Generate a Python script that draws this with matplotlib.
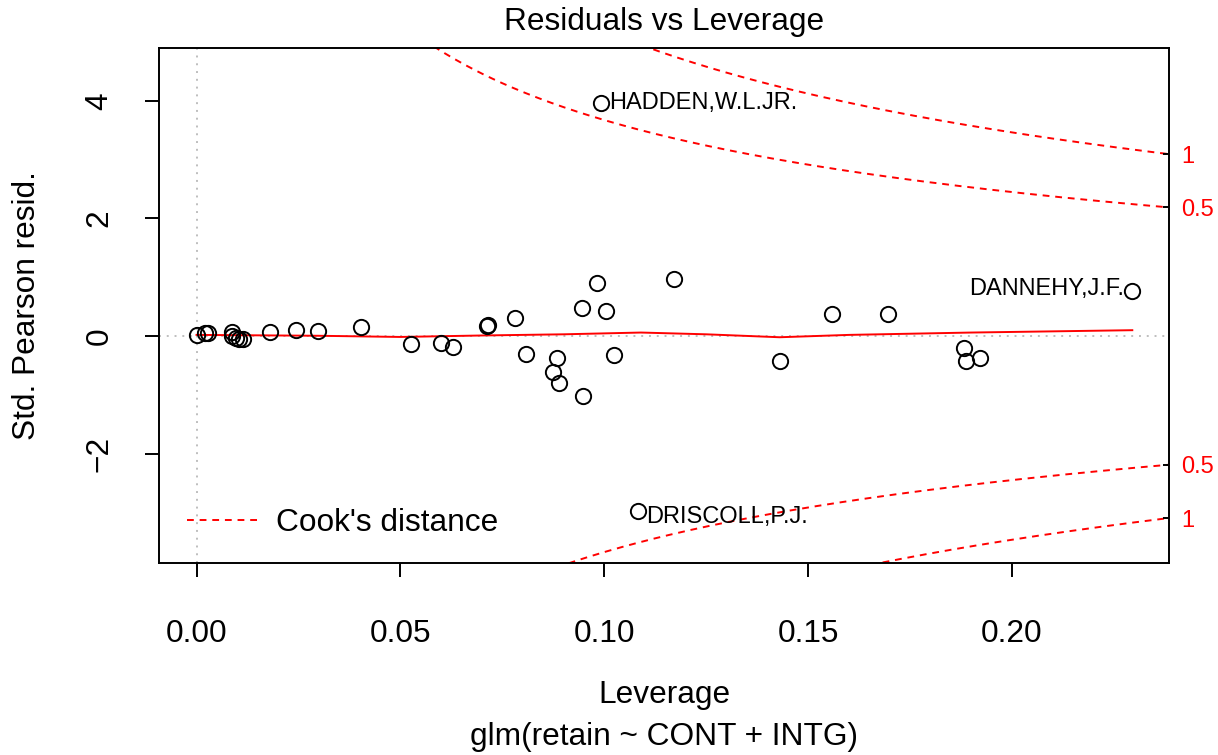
import numpy as np
import matplotlib
matplotlib.use("Agg")
import matplotlib.pyplot as plt

plt.rcParams['font.family'] = ['Liberation Sans', 'DejaVu Sans']

# ---- data ----
leverage = [0.0, 0.0022, 0.0029, 0.0086, 0.0088, 0.0096, 0.0103, 0.0113, 0.0179,
            0.0245, 0.0299, 0.0404, 0.0525, 0.0600, 0.0630, 0.0712, 0.0714, 0.0782,
            0.0808, 0.0884, 0.0874, 0.0890, 0.0948, 0.0946, 0.0982, 0.1005, 0.1025,
            0.1172, 0.1431, 0.1558, 0.1695, 0.1882, 0.1887, 0.1922]
std_resid = [0.017, 0.05, 0.05, 0.068, 0.0, -0.034, -0.05, -0.05, 0.068,
             0.10, 0.085, 0.153, -0.136, -0.12, -0.187, 0.175, 0.18, 0.31,
             -0.31, -0.38, -0.61, -0.79, -1.02, 0.47, 0.90, 0.43, -0.33,
             0.975, -0.426, 0.37, 0.37, -0.20, -0.426, -0.37]

labeled_names = ["HADDEN,W.L.JR.", "DRISCOLL,P.J.", "DANNEHY,J.F."]
labeled_lev = [0.0992, 0.1082, 0.2295]
labeled_res = [3.97, -2.98, 0.77]
label_side = ["right", "right", "left"]
label_dy = [0, -4, 1]

smooth_lev = [0.0, 0.01, 0.03, 0.05, 0.07, 0.09, 0.109, 0.125, 0.143, 0.16, 0.19, 0.2295]
smooth_res = [0.02, 0.015, 0.005, -0.015, 0.01, 0.03, 0.06, 0.03, -0.02, 0.02, 0.06, 0.10]

n_params = 3
cook_levels = [0.5, 1.0]
cook_labels = ["0.5", "1"]

x_ticks = [0.00, 0.05, 0.10, 0.15, 0.20]
x_ticklabels = ["0.00", "0.05", "0.10", "0.15", "0.20"]
y_ticks = [-2, 0, 2, 4]

title = "Residuals vs Leverage"
xlabel = "Leverage"
ylabel = "Std. Pearson resid."
subcaption = "glm(retain ~ CONT + INTG)"

# ---- figure ----
W, H = 1218, 755
fig = plt.figure(figsize=(W / 100, H / 100), dpi=100)
L, R, T, B = 159, 1169, 48, 563
ax = fig.add_axes([L / W, 1 - B / H, (R - L) / W, (B - T) / H])
xlim = (-0.0092, 0.2385)
ylim = (-3.86, 4.90)
ax.set_xlim(*xlim)
ax.set_ylim(*ylim)

FS = 22.8
lw = 1.4
red = '#FF0000'

# reference lines
ax.axhline(0, color='#BEBEBE', lw=lw, ls=(0, (1, 3)), zorder=1)
ax.axvline(0, color='#BEBEBE', lw=lw, ls=(0, (1, 3)), zorder=1)

# points
ax.plot(leverage, std_resid, 'o', mfc='none', mec='black', ms=11, mew=1.4, zorder=3)
ax.plot(labeled_lev, labeled_res, 'o', mfc='none', mec='black', ms=11, mew=1.4, zorder=3)

# smoother
ax.plot(smooth_lev, smooth_res, color=red, lw=lw, zorder=2)

# Cook's distance contours
hh = np.linspace(0.0005, xlim[1], 301)
dash = (0, (3.5, 3))
for i, lev in enumerate(cook_levels):
    cl = np.sqrt(lev * n_params * (1 - hh) / hh)
    lab = "Cook's distance" if i == 0 else None
    ax.plot(hh, cl, color=red, lw=lw, ls=dash, label=lab, zorder=2)
    ax.plot(hh, -cl, color=red, lw=lw, ls=dash, zorder=2)

# labels for identified points
for name, x, y, side, dy in zip(labeled_names, labeled_lev, labeled_res, label_side, label_dy):
    if side == "right":
        ax.annotate(name, (x, y), xytext=(6, dy), textcoords='offset points',
                    ha='left', va='center', fontsize=17)
    else:
        ax.annotate(name, (x, y), xytext=(-6, dy), textcoords='offset points',
                    ha='right', va='center', fontsize=17)

# axes styling
for s in ax.spines.values():
    s.set_linewidth(lw)
ax.set_xticks(x_ticks)
ax.set_xticklabels(x_ticklabels)
ax.set_yticks(y_ticks)
ax.set_yticklabels([str(v).replace('-', '\u2212') for v in y_ticks])
ax.tick_params(axis='both', labelsize=FS, length=10, width=lw, direction='out')
ax.tick_params(axis='x', pad=30)
ax.tick_params(axis='y', pad=22)
for lbl in ax.get_yticklabels():
    lbl.set_rotation(90)
    lbl.set_va('center')

# right-side Cook's labels
ax2 = ax.twinx()
ax2.set_ylim(*ylim)
edge = xlim[1]
pos, txt = [], []
for lev, lab in zip(cook_levels, cook_labels):
    v = np.sqrt(lev * n_params * (1 - edge) / edge)
    pos += [v, -v]
    txt += [lab, lab]
ax2.set_yticks(pos)
ax2.set_yticklabels(txt)
ax2.tick_params(axis='y', direction='in', length=4, width=lw, labelsize=17,
                labelcolor=red, pad=9)
for s in ax2.spines.values():
    s.set_visible(False)

# legend
ax.legend(loc='center left', bbox_to_anchor=(0.0277, 0.0777), frameon=False,
          fontsize=FS, handlelength=2.24, handletextpad=0.57, borderpad=0,
          borderaxespad=0)

# texts
cx = (L + R) / 2 / W
fig.text(cx, 1 - 22 / H, title, ha='center', va='center', fontsize=FS)
fig.text(cx, 1 - 695 / H, xlabel, ha='center', va='center', fontsize=FS)
fig.text(cx, 1 - 737 / H, subcaption, ha='center', va='center', fontsize=FS)
fig.text(27 / W, 1 - ((T + B) / 2) / H, ylabel, ha='center', va='center',
         rotation=90, fontsize=FS)

fig.savefig("out.png", dpi=100)
